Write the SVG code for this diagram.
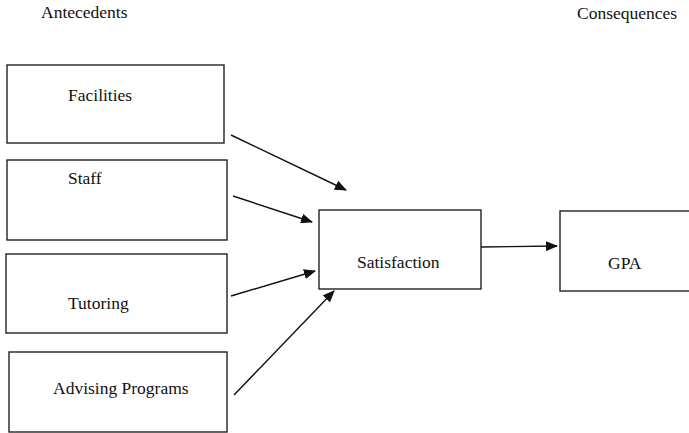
<svg xmlns="http://www.w3.org/2000/svg" width="689" height="433" viewBox="0 0 689 433">
<defs>
<style>
.box{fill:#fff;stroke:#222;stroke-width:1.4}
.t{font-family:"Liberation Serif",serif;font-size:17.5px;fill:#111}
.c{stroke:#111;stroke-width:1.4;fill:none}
</style>
<marker id="ah" markerWidth="12" markerHeight="10" refX="11" refY="5" orient="auto" markerUnits="userSpaceOnUse">
<path d="M0,0 L12,5 L0,10 Z" fill="#111"/>
</marker>
</defs>
<rect width="689" height="433" fill="#fff"/>
<text class="t" x="41" y="18">Antecedents</text>
<text class="t" x="577" y="19">Consequences</text>
<g id="facilities"><rect class="box" x="7" y="65" width="217" height="78"/><text class="t" x="68" y="101">Facilities</text></g>
<g id="staff"><rect class="box" x="7" y="160" width="220" height="80"/><text class="t" x="68" y="184">Staff</text></g>
<g id="tutoring"><rect class="box" x="6" y="254" width="221" height="79"/><text class="t" x="68" y="309">Tutoring</text></g>
<g id="advising"><rect class="box" x="9" y="352" width="218" height="80"/><text class="t" x="53" y="394">Advising Programs</text></g>
<g id="satisfaction"><rect class="box" x="319" y="210" width="162" height="79"/><text class="t" x="357" y="268">Satisfaction</text></g>
<g id="gpa"><rect class="box" x="560" y="211" width="140" height="80"/><text class="t" x="608" y="269">GPA</text></g>
<g id="connectors">
<line class="c" x1="231" y1="135" x2="346" y2="190" marker-end="url(#ah)"/>
<line class="c" x1="233" y1="196" x2="312" y2="222" marker-end="url(#ah)"/>
<line class="c" x1="231" y1="296" x2="315" y2="271" marker-end="url(#ah)"/>
<line class="c" x1="234" y1="395" x2="334" y2="291" marker-end="url(#ah)"/>
<line class="c" x1="481" y1="247" x2="557" y2="246" marker-end="url(#ah)"/>
</g>
</svg>
